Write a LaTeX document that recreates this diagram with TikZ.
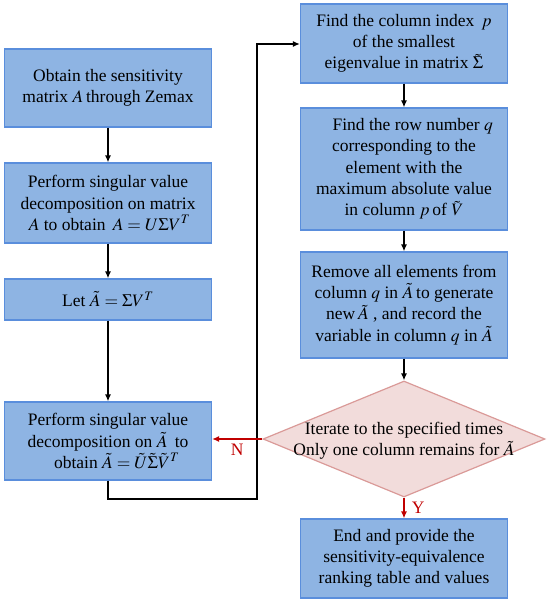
\documentclass[tikz,border=0pt]{standalone}
\usepackage{mathptmx}
\usepackage{fontspec}
\setmainfont{Liberation Serif}
\usetikzlibrary{shapes.geometric,arrows.meta}
\definecolor{boxfill}{HTML}{8EB4E3}
\definecolor{boxline}{HTML}{5A8EDC}
\definecolor{dfill}{HTML}{F2DCDB}
\definecolor{dline}{HTML}{DA9A98}
\definecolor{ared}{HTML}{C00000}
\tikzset{
  x=1pt,y=-1pt,
  stepbox/.style={draw=boxline,fill=boxfill,line width=1.2pt,minimum width=207pt,align=center,inner sep=0pt,
    font=\fontsize{17.5}{21.3}\selectfont},
  decis/.style={draw=dline,fill=dfill,line width=1.2pt,diamond,aspect=2.43,inner sep=0pt,align=center},
  arr/.style={-{Latex[length=7pt,width=6pt]},line width=1.3pt,black},
  rarr/.style={-{Latex[length=7pt,width=6pt]},line width=1.3pt,ared},
  lbl/.style={text=ared,font=\fontsize{17.5}{20}\selectfont},
}
\begin{document}
\begin{tikzpicture}
\useasboundingbox (0,0) rectangle (550,602);
\node[stepbox,minimum height=78pt] (b1) at (108,88) {Obtain the sensitivity\\matrix $A$\,through Zemax};
\node[stepbox,minimum height=80pt] (b2) at (108,203) {Perform singular value\\decomposition on matrix\\ \,$A$ to obtain \,$A=U\Sigma V^{T}$};
\node[stepbox,minimum height=41pt] (b3) at (108,299.5) {Let $\tilde{A}=\Sigma V^{T}$};
\node[stepbox,minimum height=78pt] (b4) at (108,441) {Perform singular value\\decomposition on $\tilde{A}$ \,to\\ \quad obtain $\tilde{A}=\tilde{U}\tilde{\Sigma}\tilde{V}^{T}$};
\node[stepbox,minimum height=79pt] (b5) at (404,43.5) {Find the column index \,$p$\\of the smallest\\eigenvalue in matrix $\tilde{\Sigma}$};
\node[stepbox,minimum height=122pt] (b6) at (404,169) {\quad Find the row number $q$\\corresponding to the\\element with the\\maximum absolute value\\in column $p$\,of $\tilde{V}$};
\node[stepbox,minimum height=106pt] (b7) at (404,305) {Remove all elements from\\column $q$ in $\tilde{A}$\,to generate\\new\,$\tilde{A}$ , and record the\\variable in column $q$ in $\tilde{A}$};
\node[decis,minimum width=282pt,minimum height=116pt] (d) at (404,439) {};
\node[font=\fontsize{17.5}{21.3}\selectfont,align=center] (dt) at (404,441) {Iterate to the specified times\\Only one column remains for $\tilde{A}$};
\node[stepbox,minimum height=79pt] (b8) at (404,558.5) {End and provide the\\sensitivity-equivalence\\ranking table and values};
\coordinate (c1) at (108,499);
\coordinate (c2) at (257,499);
\coordinate (c3) at (257,44);
\draw[arr] (b1) -- (b2);
\draw[arr] (b2) -- (b3);
\draw[arr] (b3) -- (b4);
\draw[arr] (b4.south) -- (c1) -- (c2) -- (c3) -- (c3 -| b5.west);
\draw[arr] (b5) -- (b6);
\draw[arr] (b6) -- (b7);
\draw[arr] (b7) -- (d.north);
\draw[rarr] (d.west) -- (b4.east |- d.west) node[lbl,pos=0.5,below=1pt] (nl) {N};
\draw[rarr] (d.south) -- (b8.north) node[lbl,pos=0.5,right=4pt] (yl) {Y};
\end{tikzpicture}
\end{document}
